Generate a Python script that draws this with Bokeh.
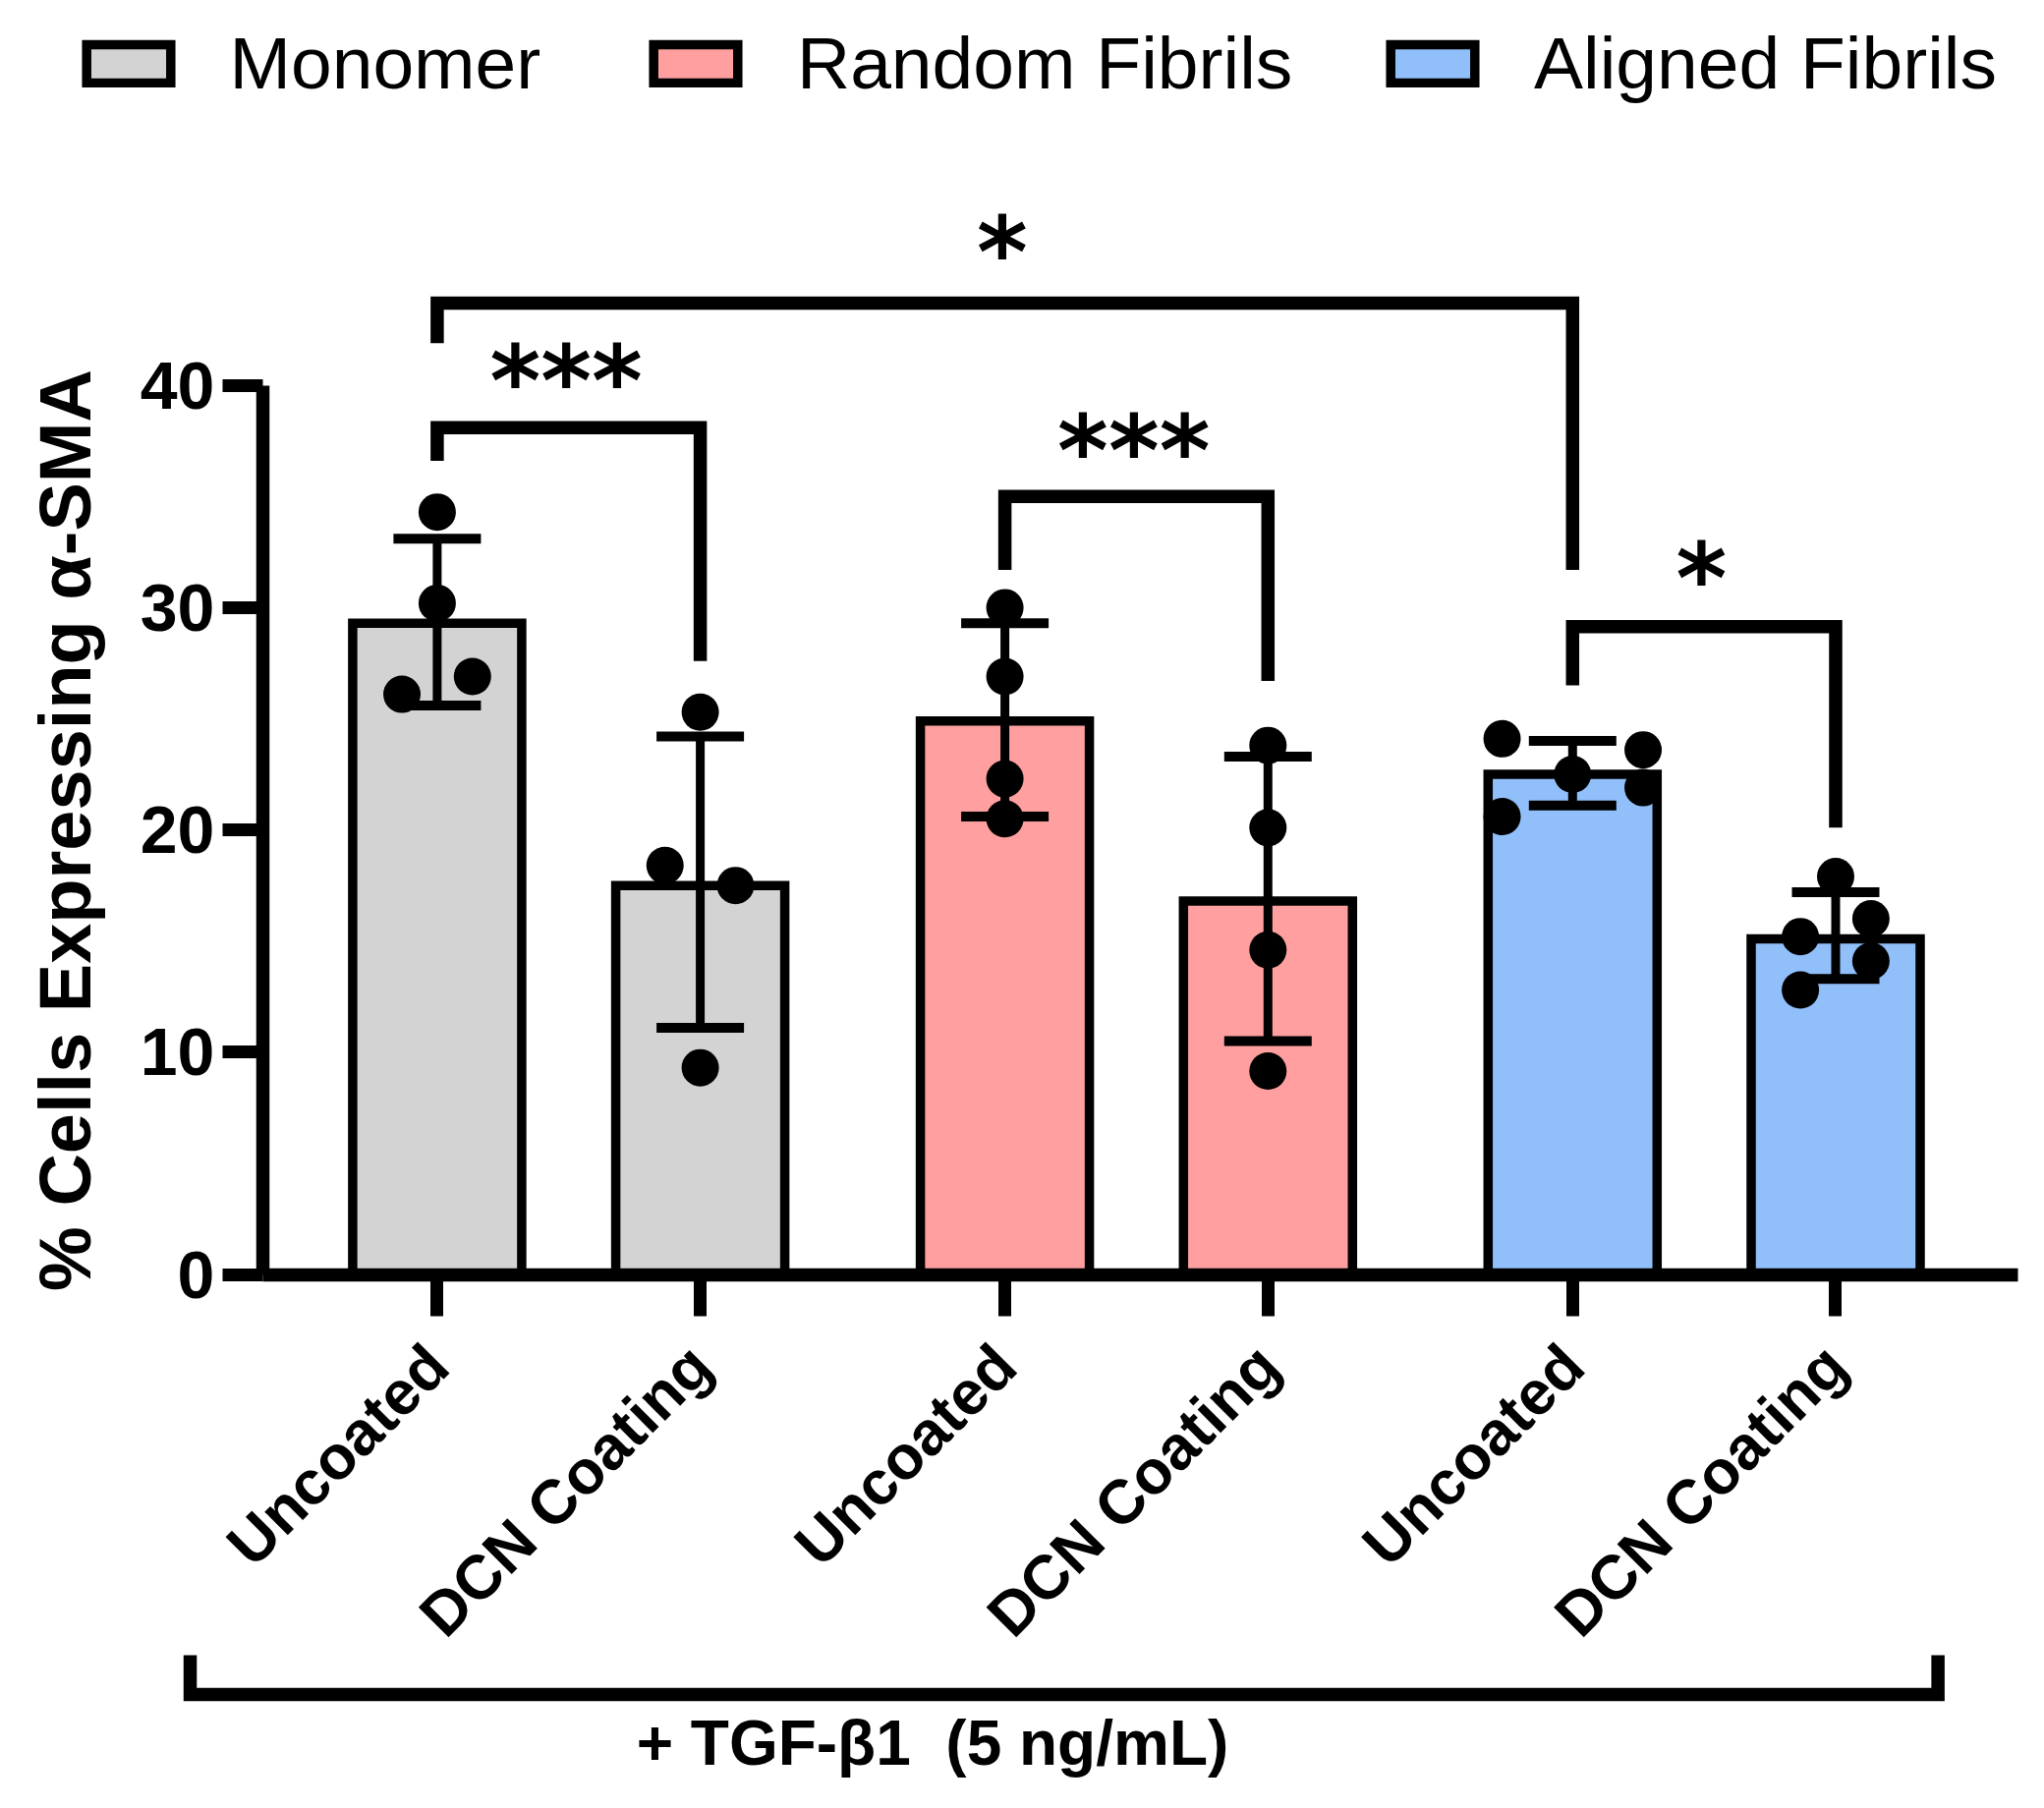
from math import pi
from bokeh.embed import file_html
from bokeh.resources import INLINE
from bokeh.plotting import figure
from bokeh.models import ColumnDataSource, Whisker, TeeHead, FixedTicker, Legend, LegendItem
from bokeh.core.properties import value

groups = ["Monomer", "Random Fibrils", "Aligned Fibrils"]
colors = ["#D3D3D3", "#FF9F9F", "#91BFFA"]
categories = ["Uncoated", "DCN Coating"]
means = [29.3, 17.5, 24.9, 16.8, 22.5, 15.1]
upper = [33.1, 24.2, 29.3, 23.3, 24.0, 17.2]
lower = [25.6, 11.1, 20.6, 10.5, 21.1, 13.3]
dots = [
    [34.3, 30.2, 26.1, 26.9],
    [25.3, 18.4, 17.5, 9.3],
    [30.0, 26.9, 22.3, 20.5],
    [23.8, 20.1, 14.6, 9.15],
    [24.1, 23.6, 22.5, 21.9, 20.6],
    [17.9, 16.0, 15.2, 14.1, 12.8],
]
dot_steps = [
    [0, 0, -1, 1],
    [0, -1, 1, 0],
    [0, 0, 0, 0],
    [0, 0, 0, 0],
    [-2, 2, 0, 2, -2],
    [0, 1, -1, 1, -1],
]
# bracket: from bar, to bar, left-end value, top value, right-end value, label, label value
brackets = [
    (0, 4, 41.9, 43.7, 31.7, "*", 45.97),
    (0, 1, 36.6, 38.1, 27.6, "***", 40.17),
    (2, 3, 31.7, 35.0, 26.7, "***", 37.02),
    (4, 5, 26.5, 29.15, 20.1, "*", 31.29),
]
y_ticks = [0, 10, 20, 30, 40]
y_label = "% Cells Expressing \u03b1-SMA"
bottom_label = "+ TGF-\u03b21 \u00a0(5 ng/mL)"

GROUP_GAP = 0.158
xs = [round(i + GROUP_GAP * (i // 2), 3) for i in range(6)]
PX = 267.7
PY = 22.62
W, H = 2064, 1824
X0 = 444.4
Y0 = 1296.5

p = figure(width=W, height=H, output_backend="svg", toolbar_location=None,
           x_range=(-X0 / PX, (W - X0) / PX), y_range=(-(H - Y0) / PY, Y0 / PY),
           min_border=0, outline_line_color=None, background_fill_color="white",
           border_fill_color="white")
p.grid.visible = False

FONT = "Liberation Sans"
renderers = []
for g, (name, col) in enumerate(zip(groups, colors)):
    idx = [2 * g, 2 * g + 1]
    src = ColumnDataSource(dict(x=[xs[i] for i in idx], top=[means[i] for i in idx]))
    r = p.vbar(x="x", top="top", bottom=0, width=0.6425, source=src, fill_color=col,
               line_color="black", line_width=9.5, line_join="miter")
    renderers.append(r)

wsrc = ColumnDataSource(dict(base=xs, upper=upper, lower=lower))
w = Whisker(base="base", upper="upper", lower="lower", source=wsrc, dimension="height",
            line_color="black", line_width=9, level="overlay",
            upper_head=TeeHead(size=89, line_color="black", line_width=10),
            lower_head=TeeHead(size=89, line_color="black", line_width=10))
p.add_layout(w)

dx, dy = [], []
for i, (vals, steps) in enumerate(zip(dots, dot_steps)):
    for v, s in zip(vals, steps):
        dx.append(xs[i] + s * 0.134)
        dy.append(v)
p.scatter(dx, dy, size=38, marker="circle", fill_color="black", line_color=None, level="overlay")

for a, b, y1, ytop, y2, star, ystar in brackets:
    p.line([xs[a], xs[a], xs[b], xs[b]], [y1, ytop, ytop, y2], line_color="black",
           line_width=13.5, line_join="miter", line_cap="butt")
    p.text([(xs[a] + xs[b]) / 2 - 0.01], [ystar], text=[star], text_font=value("DejaVu Sans"),
           text_font_style="bold", text_font_size="99px", text_align="center",
           text_baseline="middle", text_color="black")

p.line([-0.939, -0.939, 5.705, 5.705], [-17.13, -18.9, -18.9, -17.13], line_color="black",
       line_width=13.5, line_join="miter", line_cap="butt")
p.text([1.883], [-21.1], text=[bottom_label], text_font=value(FONT), text_font_style="bold",
       text_font_size="64px", text_align="center", text_baseline="middle", text_color="black")

xa = p.xaxis[0]
xa.fixed_location = 0
xa.bounds = (-0.663, 6.01)
xa.ticker = FixedTicker(ticks=xs)
xa.major_label_overrides = {x: categories[i % 2] for i, x in enumerate(xs)}
xa.major_label_orientation = pi / 4
xa.major_label_text_font = FONT
xa.major_label_text_font_style = "bold"
xa.major_label_text_font_size = "63px"
xa.major_label_text_color = "black"
xa.major_label_standoff = 40
xa.axis_line_width = 13.5
xa.axis_line_color = "black"
xa.major_tick_line_width = 13
xa.major_tick_line_color = "black"
xa.major_tick_in = 0
xa.major_tick_out = 42
xa.minor_tick_line_color = None

ya = p.yaxis[0]
ya.fixed_location = -0.663
ya.bounds = (0, 40)
ya.ticker = FixedTicker(ticks=y_ticks)
ya.major_label_text_font = FONT
ya.major_label_text_font_style = "bold"
ya.major_label_text_font_size = "68px"
ya.major_label_text_color = "black"
ya.major_label_standoff = 8
ya.axis_line_width = 13.5
ya.axis_line_color = "black"
ya.major_tick_line_width = 13
ya.major_tick_line_color = "black"
ya.major_tick_in = 0
ya.major_tick_out = 41
ya.minor_tick_line_color = None
ya.axis_label = y_label
ya.axis_label_text_font = FONT
ya.axis_label_text_font_style = "bold"
ya.axis_label_text_font_size = "74px"
ya.axis_label_text_color = "black"
ya.axis_label_standoff = 32

for n, r, lx in zip(groups, renderers, (76.5, 654, 1404)):
    legend = Legend(items=[LegendItem(label=n, renderers=[r])],
                    orientation="horizontal", location=(lx, H - 107), padding=0, margin=0, spacing=0,
                    border_line_color=None, background_fill_alpha=0, glyph_width=107, glyph_height=49,
                    label_standoff=50, label_text_font=FONT, label_text_font_size="75px",
                    label_text_color="black", label_height=80)
    p.add_layout(legend)

open("out.html", "w").write(file_html(p, INLINE))
